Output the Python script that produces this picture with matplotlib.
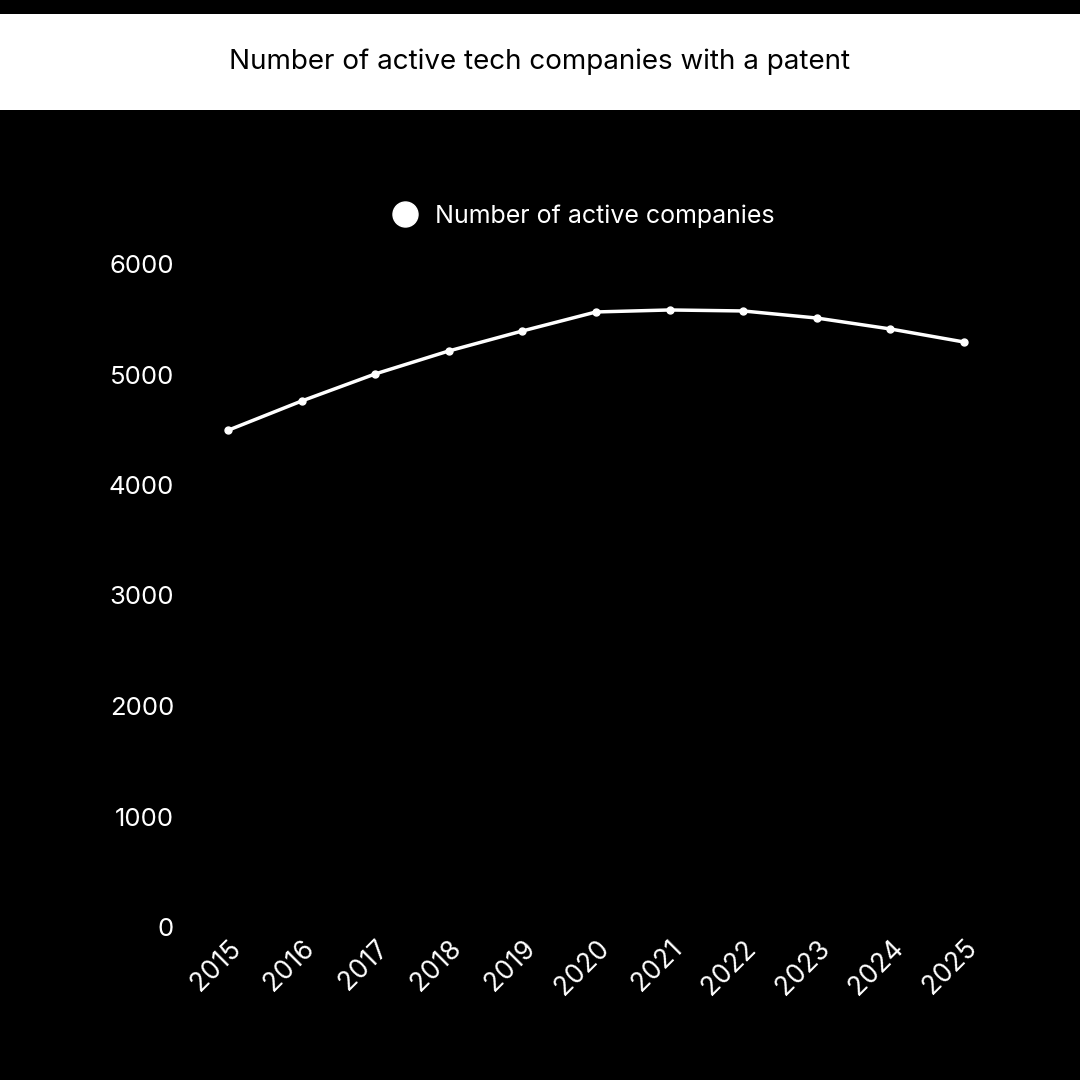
import matplotlib.pyplot as plt
from matplotlib.patches import Rectangle

years = [2015, 2016, 2017, 2018, 2019, 2020, 2021, 2022, 2023, 2024, 2025]
companies = [4495, 4760, 5005, 5213, 5394, 5566, 5584, 5575, 5511, 5412, 5294]

plt.rcParams['font.family'] = ['Inter', 'DejaVu Sans']

fig = plt.figure(figsize=(10.8, 10.8), dpi=100, facecolor='black')
# white title band
fig.patches.append(Rectangle((0, 1 - 110 / 1080), 1, 96 / 1080, transform=fig.transFigure,
                             facecolor='white', edgecolor='none', zorder=0))
fig.text(0.5, 1 - 62 / 1080, 'Number of active tech companies with a patent',
         ha='center', va='center', fontsize=20, color='black')

ax = fig.add_axes([228 / 1080, 1 - 927 / 1080, 736 / 1080, 663 / 1080])
ax.set_facecolor('black')
ax.plot(years, companies, color='white', lw=2.5, marker='o', ms=5,
        label='Number of active companies', clip_on=False)
ax.set_xlim(2015, 2025)
ax.set_ylim(0, 6000)
ax.set_yticks(range(0, 6001, 1000))
ax.set_xticks(years)
for s in ax.spines.values():
    s.set_visible(False)
ax.tick_params(length=0, colors='white', labelsize=18.5)
ax.tick_params(axis='y', pad=55)
ax.tick_params(axis='x', pad=6, labelsize=19)
for lab in ax.get_xticklabels():
    lab.set_rotation(45)
    lab.set_ha('right')
    lab.set_va('top')
    lab.set_rotation_mode('anchor')
ax.tick_params(axis='y', pad=56)

leg = ax.legend(loc='center', bbox_to_anchor=(590 / 1080, 1 - 216 / 1080),
                bbox_transform=fig.transFigure, frameon=False, fontsize=18,
                labelcolor='white', handlelength=0, handletextpad=1.2, markerscale=0)
for h in leg.legend_handles:
    h.set_linestyle('none')
    h.set_marker('o')
    h.set_markersize(18)
    h.set_color('white')

# shift y tick labels so their right edge sits near x=172px
fig.canvas.draw()
for lab in ax.get_yticklabels():
    lab.set_ha('right')
ax.tick_params(axis='y', pad=(228 - 174) * 72 / 100)

fig.savefig('out.png', dpi=100, facecolor='black')
